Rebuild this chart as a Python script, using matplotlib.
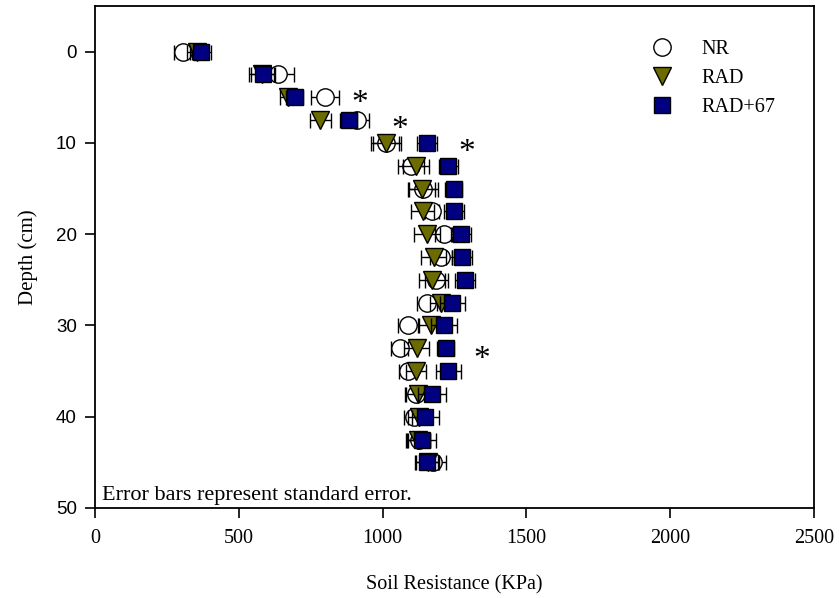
import matplotlib
matplotlib.use("Agg")
import matplotlib.pyplot as plt

# Sampling depths (cm)
depth = [0, 2.5, 5, 7.5, 10, 12.5, 15, 17.5, 20, 22.5, 25, 27.5, 30, 32.5, 35, 37.5, 40, 42.5, 45]

# Mean soil resistance (KPa) and standard errors per treatment
nr = [306, 637, 799, 912, 1013, 1100, 1140, 1172, 1212, 1204, 1186, 1153, 1087, 1059, 1087, 1117, 1108, 1125, 1175]
nr_se = [31, 55, 49, 42, 52, 45, 52, 25, 30, 38, 40, 35, 35, 29, 29, 38, 35, 40, 44]

rad = [355, 580, 671, 784, 1013, 1115, 1138, 1140, 1153, 1177, 1172, 1204, 1169, 1118, 1115, 1122, 1128, 1122, 1157]
rad_se = [35, 45, 28, 38, 45, 45, 45, 40, 45, 45, 45, 40, 42, 45, 35, 40, 40, 42, 40]

rad67 = [368, 583, 694, 882, 1153, 1229, 1247, 1247, 1274, 1277, 1288, 1242, 1215, 1219, 1229, 1172, 1149, 1138, 1153]
rad67_se = [37, 40, 30, 30, 35, 32, 29, 35, 35, 35, 35, 43, 45, 29, 43, 48, 46, 48, 40]

# Significance markers: (resistance, depth)
star_x = [920, 1059, 1292, 1344]
star_y = [4.9, 7.7, 10.2, 32.9]

xticks = [0, 500, 1000, 1500, 2000, 2500]
yticks = [0, 10, 20, 30, 40, 50]

serif = ["Liberation Serif", "DejaVu Serif"]
sans = ["Liberation Sans", "DejaVu Sans"]

fig = plt.figure(figsize=(8.39, 5.98), dpi=100)
ax = fig.add_axes([95 / 839, 1 - 508 / 598, (814 - 95) / 839, (508 - 6) / 598])

series = [
    (nr, nr_se, "o", "white", 12.5, "NR"),
    (rad, rad_se, "v", "#6b6b00", 13.0, "RAD"),
    (rad67, rad67_se, "s", "#000080", 12.0, "RAD+67"),
]

z = 2
handles = []
for vals, se, mk, fc, ms, lab in series:
    ax.errorbar(vals, depth, xerr=se, fmt="none", ecolor="black",
                elinewidth=1.0, capsize=5.4, capthick=1.0, zorder=z)
    h, = ax.plot(vals, depth, linestyle="none", marker=mk, markersize=ms,
                 markerfacecolor=fc, markeredgecolor="black",
                 markeredgewidth=1.0, zorder=z + 1, label=lab)
    handles.append(h)
    z += 2

for sx, sy in zip(star_x, star_y):
    ax.text(sx, sy + 1.75, "*", fontsize=24, family=serif,
            ha="center", va="baseline", zorder=10)

ax.set_xlim(0, 2500)
ax.set_ylim(50, -5)
ax.set_xticks(xticks)
ax.set_yticks(yticks)
ax.set_xticklabels([str(t) for t in xticks], fontsize=14.5, family=serif)
ax.set_yticklabels([str(t) for t in yticks], fontsize=13.5, family=sans)
ax.tick_params(axis="both", direction="out", length=7, width=1.2,
               top=False, right=False)
ax.tick_params(axis="x", pad=8)
ax.tick_params(axis="y", pad=6)
for s in ax.spines.values():
    s.set_linewidth(1.3)

ax.set_xlabel("Soil Resistance (KPa)", fontsize=14.5, family=serif, labelpad=20)
ax.set_ylabel("Depth (cm)", fontsize=15, family=serif, labelpad=13)

ax.text(102 / 839, 1 - 500 / 598, "Error bars represent standard error.",
        transform=fig.transFigure, fontsize=16, family=serif,
        ha="left", va="baseline")

leg = ax.legend(handles=handles, loc="upper right",
                bbox_to_anchor=(0.966, 0.961), frameon=False,
                prop={"family": serif, "size": 14.5},
                handletextpad=1.2, labelspacing=0.5, handlelength=1.5,
                borderaxespad=0.3)

fig.savefig("out.png", dpi=100)
